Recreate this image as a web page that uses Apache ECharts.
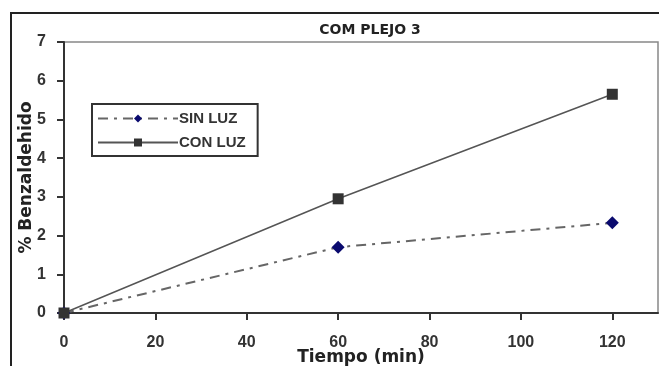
<!DOCTYPE html>
<html>
<head>
<meta charset="utf-8">
<script src="https://cdn.jsdelivr.net/npm/echarts@6/dist/echarts.min.js"></script>
<style>
  html, body { margin: 0; padding: 0; background: #fff; }
  #chart { width: 659px; height: 366px; }
</style>
</head>
<body>
<div id="chart"></div>
<script>
// Benzaldehyde formation over time, with and without light
const tiempo = [0, 60, 120];
const sinLuz = [0, 1.7, 2.33];
const conLuz = [0, 2.95, 5.65];
const seriesNames = ['SIN LUZ', 'CON LUZ'];
const chartTitle = 'COM PLEJO 3';
const xName = 'Tiempo (min)';
const yName = '% Benzaldehido';

const font = 'Liberation Sans, Arial, sans-serif';
const wideFont = 'DejaVu Sans, Verdana, sans-serif';
const chart = echarts.init(document.getElementById('chart'), null, { renderer: 'canvas' });

const pairs = (xs, ys) => xs.map((x, i) => [x, ys[i]]);

chart.setOption({
  animation: false,
  backgroundColor: '#fff',
  graphic: [
    {
      // outer chart frame (runs off the right and bottom edges)
      type: 'rect',
      shape: { x: 11, y: 13, width: 700, height: 400 },
      style: { fill: 'none', stroke: '#222', lineWidth: 2 },
      silent: true
    },
    {
      // chart title
      type: 'text',
      x: 370,
      y: 30,
      style: {
        text: chartTitle,
        fontFamily: wideFont,
        fontSize: 14,
        fontWeight: 'bold',
        fill: '#222',
        align: 'center',
        verticalAlign: 'middle'
      },
      silent: true
    }
  ],
  legend: {
    left: 92,
    top: 104,
    orient: 'vertical',
    itemWidth: 80,
    itemHeight: 10,
    itemGap: 9,
    padding: [7, 12, 6, 5],
    borderColor: '#333',
    borderWidth: 2,
    borderRadius: 0,
    backgroundColor: '#fff',
    textStyle: { fontFamily: font, fontSize: 15, fontWeight: 'bold', color: '#333', padding: [0, 0, 0, -4] },
    data: seriesNames
  },
  grid: {
    left: 64, top: 42, right: 1, bottom: 53,
    show: true,
    borderColor: '#888',
    borderWidth: 1.5,
    containLabel: false,
    outerBoundsMode: 'none'
  },
  xAxis: {
    type: 'value',
    min: 0, max: 130, interval: 20,
    name: xName,
    nameLocation: 'middle',
    nameGap: 36,
    nameMoveOverlap: false,
    nameTextStyle: { fontFamily: wideFont, fontSize: 17, fontWeight: 'bold', color: '#222' },
    axisLine: { onZero: false, lineStyle: { color: '#333', width: 2 } },
    axisTick: { show: true, length: 7, lineStyle: { color: '#333', width: 2 } },
    axisLabel: {
      fontFamily: font, fontSize: 16, fontWeight: 'bold', color: '#333', margin: 22,
      showMaxLabel: false
    },
    splitLine: { show: false }
  },
  yAxis: {
    type: 'value',
    min: 0, max: 7, interval: 1,
    name: yName,
    nameLocation: 'middle',
    nameGap: 29,
    nameRotate: 90,
    nameMoveOverlap: false,
    nameTextStyle: { fontFamily: wideFont, fontSize: 17, fontWeight: 'bold', color: '#222' },
    axisLine: { show: true, onZero: false, lineStyle: { color: '#333', width: 2 } },
    axisTick: { show: true, length: 7, lineStyle: { color: '#333', width: 2 } },
    axisLabel: { fontFamily: font, fontSize: 16, fontWeight: 'bold', color: '#333', margin: 18 },
    splitLine: { show: false }
  },
  series: [
    {
      name: seriesNames[0],
      type: 'line',
      data: pairs(tiempo, sinLuz),
      symbol: 'diamond',
      symbolSize: 13,
      itemStyle: { color: '#0a0a6e' },
      lineStyle: { color: '#666', width: 2, type: [10, 6, 3, 6] },
      z: 3
    },
    {
      name: seriesNames[1],
      type: 'line',
      data: pairs(tiempo, conLuz),
      symbol: 'rect',
      symbolSize: 11,
      itemStyle: { color: '#333' },
      lineStyle: { color: '#555', width: 1.5, type: 'solid' },
      z: 4
    }
  ]
});
</script>
</body>
</html>
